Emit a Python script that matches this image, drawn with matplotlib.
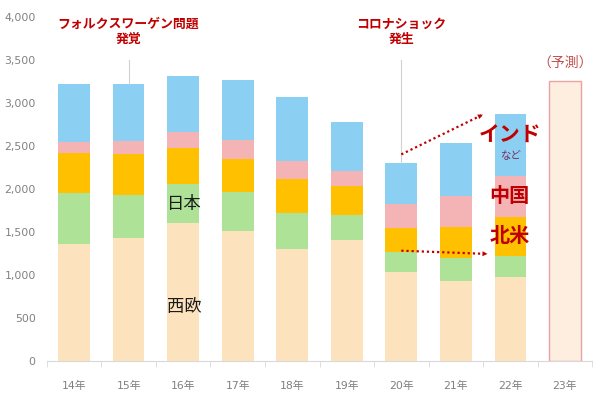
import matplotlib
matplotlib.use('Agg')
import matplotlib.pyplot as plt
import numpy as np

plt.rcParams['font.family'] = ['Noto Sans CJK JP', 'DejaVu Sans']

# データ（単位：千台）
years = ['14年', '15年', '16年', '17年', '18年', '19年', '20年', '21年', '22年', '23年']
west_eu = [1360, 1426, 1601, 1515, 1300, 1407, 1035, 930, 980]
japan = [597, 504, 454, 446, 420, 294, 229, 271, 245]
n_america = [462, 481, 418, 392, 395, 330, 283, 361, 446]
china = [124, 151, 186, 217, 215, 178, 275, 360, 476]
india_etc = [674, 659, 659, 697, 735, 574, 476, 609, 725]
forecast_23 = 3260

colors = ['#FDE3BD', '#AEE296', '#FFC000', '#F4B4B6', '#8BCFF2']
dark_red = '#C00000'
tick_font = ['DejaVu Sans', 'Noto Sans CJK JP']

fig = plt.figure(figsize=(6, 3.98), dpi=100)
ax = fig.add_axes([0.078, 0.093, 0.909, 0.864])

x = np.arange(len(west_eu))
width = 0.58
bottom = np.zeros(len(west_eu))
for vals, c in zip([west_eu, japan, n_america, china, india_etc], colors):
    ax.bar(x, vals, width, bottom=bottom, color=c, linewidth=0)
    bottom += np.array(vals)
totals = bottom

# 23年（予測）
ax.bar(9, forecast_23, width, color='#FDEEE0', edgecolor='#E8A3A3', linewidth=1)
ax.text(9, 3470, '（予測）', ha='center', va='center', fontsize=10, color='#C0504D')

# イベント注記
ax.plot([1, 1], [3500, totals[1]], color='#D0D0D0', linewidth=0.8)
ax.text(1, 3840, 'フォルクスワーゲン問題\n発覚', ha='center', va='center',
        fontsize=9.3, fontweight='bold', color=dark_red, linespacing=1.1)
ax.plot([6, 6], [3500, totals[6]], color='#D0D0D0', linewidth=0.8)
ax.text(6, 3840, 'コロナショック\n発生', ha='center', va='center',
        fontsize=9.3, fontweight='bold', color=dark_red, linespacing=1.1)

# 矢印（点線）
for (x0, y0), (x1, y1) in [((6.0, 2403), (7.54, 2880)), ((6.0, 1283), (7.63, 1244))]:
    ax.plot([x0, x1 - 0.06], [y0, y1 - (y1 - y0) * 0.06 / (x1 - x0)],
            linestyle=(0, (1, 1.3)), color=dark_red, linewidth=1.6)
    ax.annotate('', xy=(x1, y1), xytext=(x1 - 0.12, y1 - (y1 - y0) * 0.12 / (x1 - x0)),
                arrowprops=dict(arrowstyle='-|>', color=dark_red, lw=0, mutation_scale=9))

# 地域ラベル
ax.text(2.02, 1830, '日本', ha='center', va='center', fontsize=12.5, color='#1A1A1A')
ax.text(2.02, 630, '西欧', ha='center', va='center', fontsize=12.5, color='#1A1A1A')
ax.text(8.0, 2620, 'インド', ha='center', va='center', fontsize=15, fontweight='bold', color=dark_red)
ax.text(8.0, 2390, 'など', ha='center', va='center', fontsize=7.5, color='#7A2A5A')
ax.text(7.98, 1930, '中国', ha='center', va='center', fontsize=14.5, fontweight='bold', color=dark_red)
ax.text(7.98, 1465, '北米', ha='center', va='center', fontsize=14.5, fontweight='bold', color=dark_red)

# 軸
ax.set_xlim(-0.5, 9.5)
ax.set_ylim(0, 4000)
ax.set_xticks(np.arange(len(years)))
ax.set_xticklabels(years, fontsize=7.8, color='#808080', family=tick_font)
ax.set_xticks(np.arange(-0.5, 10, 1), minor=True)
ax.tick_params(axis='x', which='major', length=0, pad=14)
ax.tick_params(axis='x', which='minor', length=4, color='#D9D9D9')
ax.set_yticks(np.arange(0, 4001, 500))
ax.set_yticklabels([f'{v:,}' for v in range(0, 4001, 500)], fontsize=7.8, color='#808080',
                   family=tick_font)
ax.tick_params(axis='y', length=0, pad=8)
for s in ['top', 'right', 'left']:
    ax.spines[s].set_visible(False)
ax.spines['bottom'].set_color('#D9D9D9')

plt.savefig('out.png', dpi=100, facecolor='white')
